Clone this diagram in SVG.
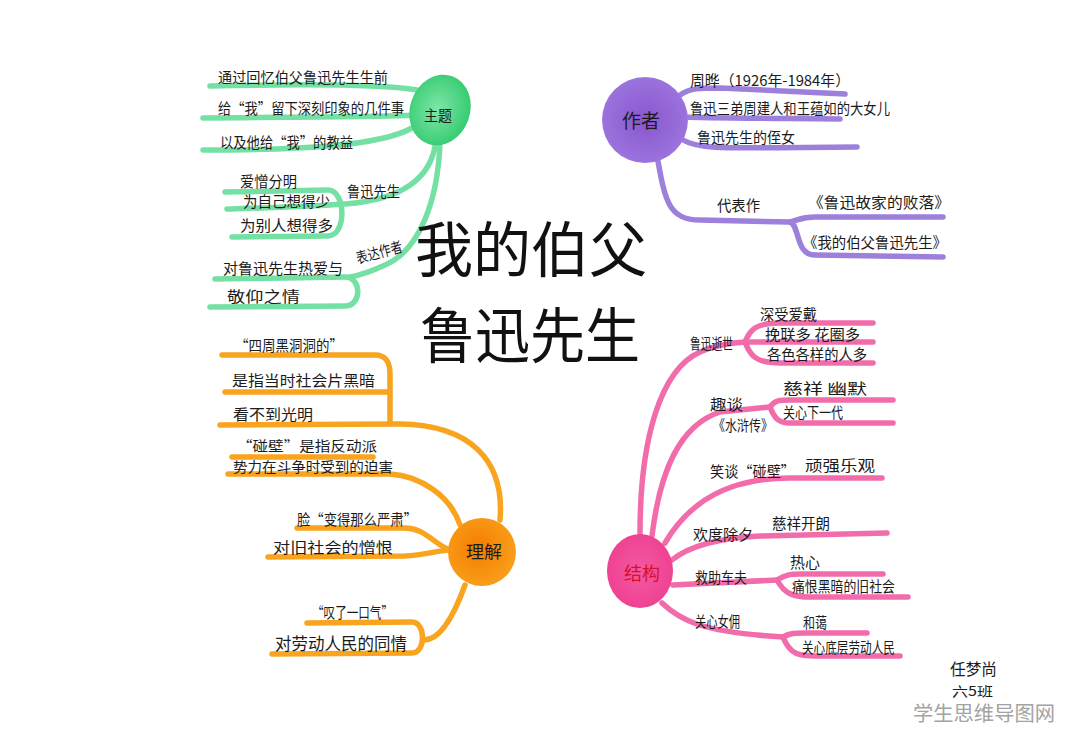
<svg xmlns="http://www.w3.org/2000/svg" width="1080" height="751" viewBox="0 0 1080 751">
<defs>
<radialGradient id="gG" cx="0.45" cy="0.5" r="0.6"><stop offset="0" stop-color="#7fe6a8"/><stop offset="1" stop-color="#2fc96c"/></radialGradient>
<radialGradient id="gP" cx="0.5" cy="0.5" r="0.6"><stop offset="0" stop-color="#8a56cf"/><stop offset="0.8" stop-color="#9a72dc"/><stop offset="1" stop-color="#b89ae8"/></radialGradient>
<radialGradient id="gO" cx="0.45" cy="0.45" r="0.6"><stop offset="0" stop-color="#f57c00"/><stop offset="1" stop-color="#f9a11c"/></radialGradient>
<radialGradient id="gK" cx="0.5" cy="0.5" r="0.6"><stop offset="0" stop-color="#f25aa2"/><stop offset="1" stop-color="#ef3d8f"/></radialGradient>
</defs>
<style>
.ln{fill:none;stroke-width:5.5;stroke-linecap:round;stroke-linejoin:round}
.g{stroke:#74e0a4}
.p{stroke:#9d80dc}
.o{stroke:#f8a41e}
.k{stroke:#f26cab}
.t{font-family:"Noto Sans CJK SC","Noto Sans",sans-serif;font-size:15px;fill:#1b1b1b}
.title{font-family:"Noto Sans CJK SC","Noto Sans",sans-serif;font-size:60px;fill:#111}
</style>
<rect width="1080" height="751" fill="#ffffff"/>

<g id="connectors">
<!-- green -->
<path class="ln g" d="M210,86 C300,84 380,84 417,90"/>
<path class="ln g" d="M203,118 C300,117 380,117 420,115"/>
<path class="ln g" d="M203,150 C300,150 380,146 412,128"/>
<path class="ln g" d="M436,140 C432,180 400,200 345,204 C300,207 260,208 227,209"/>
<path class="ln g" d="M225,192 L328,190 C346,190 347,236 328,236 L232,237"/>
<path class="ln g" d="M440,142 C438,200 420,250 385,265 C372,271 362,275 350,277"/>
<path class="ln g" d="M215,279 L345,277 C362,277 362,306 345,306 L210,307"/>
<!-- purple -->
<path class="ln p" d="M680,95 C690,88 700,88 720,88 L845,94"/>
<path class="ln p" d="M684,117 C700,118 720,118 840,119"/>
<path class="ln p" d="M683,140 C700,150 720,148 857,147"/>
<path class="ln p" d="M657,156 C665,200 668,220 700,220 L790,222"/>
<path class="ln p" d="M790,222 C800,220 800,217 815,217 L943,217"/>
<path class="ln p" d="M790,222 C800,225 795,255 815,255 L943,257"/>
<!-- orange -->
<path class="ln o" d="M500,520 C505,460 470,425 400,424 L220,425"/>
<path class="ln o" d="M222,355 L375,355 C388,355 390,365 390,375 L390,422"/>
<path class="ln o" d="M225,392 L388,392"/>
<path class="ln o" d="M232,457 L373,457"/>
<path class="ln o" d="M228,474 L390,474 C420,476 450,495 460,525"/>
<path class="ln o" d="M297,528 L405,528 C425,528 435,545 450,550"/>
<path class="ln o" d="M268,557 L405,556 C425,555 435,551 450,550"/>
<path class="ln o" d="M307,623 L412,622 C426,622 426,653 412,653 L272,654"/>
<path class="ln o" d="M424,640 C442,640 456,610 465,585"/>
<!-- pink -->
<path class="ln k" d="M640,534 C640,440 660,370 700,352 C715,345 730,343 745,342"/>
<path class="ln k" d="M745,342 C750,330 755,323 780,323 L873,323"/>
<path class="ln k" d="M745,342 L873,342"/>
<path class="ln k" d="M745,342 C750,355 755,363 780,363 L873,363"/>
<path class="ln k" d="M652,536 C660,470 680,425 720,412 L770,407"/>
<path class="ln k" d="M770,407 C775,400 780,400 790,400 L893,400"/>
<path class="ln k" d="M770,407 C775,420 780,423 790,423 L893,423"/>
<path class="ln k" d="M665,543 C690,500 730,478 790,478 L882,478"/>
<path class="ln k" d="M672,560 C690,545 720,538 760,536 L887,533"/>
<path class="ln k" d="M673,585 L777,580"/>
<path class="ln k" d="M777,580 C785,575 790,574 800,574 L883,574"/>
<path class="ln k" d="M777,580 C785,595 795,597 810,597 L908,597"/>
<path class="ln k" d="M662,603 C680,620 700,632 783,637"/>
<path class="ln k" d="M783,637 C790,633 795,633 805,633 L867,633"/>
<path class="ln k" d="M783,637 C790,655 800,656 815,656 L900,656"/>
</g>

<g id="title">
<text class="title" x="415" y="272" textLength="232" lengthAdjust="spacingAndGlyphs">我的伯父</text>
<text class="title" x="420" y="358" textLength="220" lengthAdjust="spacingAndGlyphs">鲁迅先生</text>
</g>

<g id="node-zhuti">
<ellipse cx="440" cy="110" rx="30" ry="36" transform="rotate(20 440 110)" fill="url(#gG)"/>
<text class="t" x="424" y="121" textLength="28" lengthAdjust="spacingAndGlyphs">主题</text>
</g>
<g id="zhuti-items">
<text class="t" x="218" y="83" textLength="170" lengthAdjust="spacingAndGlyphs">通过回忆伯父鲁迅先生生前</text>
<text class="t" x="218" y="114" textLength="186" lengthAdjust="spacingAndGlyphs">给“我”留下深刻印象的几件事</text>
<text class="t" x="220" y="148" textLength="133" lengthAdjust="spacingAndGlyphs">以及他给“我”的教益</text>
<text class="t" x="347" y="197" textLength="53" lengthAdjust="spacingAndGlyphs">鲁迅先生</text>
<text class="t" x="240" y="187" textLength="57" lengthAdjust="spacingAndGlyphs">爱憎分明</text>
<text class="t" x="243" y="207" textLength="87" lengthAdjust="spacingAndGlyphs">为自己想得少</text>
<text class="t" x="240" y="231" textLength="93" lengthAdjust="spacingAndGlyphs">为别人想得多</text>
<text class="t" x="355" y="258" textLength="47" lengthAdjust="spacingAndGlyphs" transform="rotate(-15 378 250)">表达作者</text>
<text class="t" x="223" y="274" textLength="120" lengthAdjust="spacingAndGlyphs">对鲁迅先生热爱与</text>
<text class="t" x="227" y="302" textLength="73" lengthAdjust="spacingAndGlyphs">敬仰之情</text>
</g>

<g id="node-zuozhe">
<circle cx="645" cy="120" r="43" fill="url(#gP)"/>
<text class="t" x="622" y="128" style="font-size:19px" textLength="38" lengthAdjust="spacingAndGlyphs">作者</text>
</g>
<g id="zuozhe-items">
<text class="t" x="690" y="86" textLength="160" lengthAdjust="spacingAndGlyphs">周晔（1926年-1984年）</text>
<text class="t" x="690" y="114" textLength="200" lengthAdjust="spacingAndGlyphs">鲁迅三弟周建人和王蕴如的大女儿</text>
<text class="t" x="697" y="143" textLength="98" lengthAdjust="spacingAndGlyphs">鲁迅先生的侄女</text>
<text class="t" x="717" y="211" textLength="43" lengthAdjust="spacingAndGlyphs">代表作</text>
<text class="t" x="808" y="208" textLength="142" lengthAdjust="spacingAndGlyphs">《鲁迅故家的败落》</text>
<text class="t" x="803" y="248" textLength="144" lengthAdjust="spacingAndGlyphs">《我的伯父鲁迅先生》</text>
</g>

<g id="node-lijie">
<circle cx="482" cy="552" r="34" fill="url(#gO)"/>
<text class="t" x="466" y="558" style="font-size:17px" textLength="36" lengthAdjust="spacingAndGlyphs">理解</text>
</g>
<g id="lijie-items">
<text class="t" x="235" y="351" textLength="108" lengthAdjust="spacingAndGlyphs">“四周黑洞洞的”</text>
<text class="t" x="232" y="386" textLength="143" lengthAdjust="spacingAndGlyphs">是指当时社会片黑暗</text>
<text class="t" x="233" y="420" textLength="80" lengthAdjust="spacingAndGlyphs">看不到光明</text>
<text class="t" x="237" y="451" style="font-size:14px" textLength="140" lengthAdjust="spacingAndGlyphs">“碰壁”是指反动派</text>
<text class="t" x="233" y="472" style="font-size:14px" textLength="160" lengthAdjust="spacingAndGlyphs">势力在斗争时受到的迫害</text>
<text class="t" x="297" y="525" textLength="120" lengthAdjust="spacingAndGlyphs">脸“变得那么严肃”</text>
<text class="t" x="273" y="553" textLength="120" lengthAdjust="spacingAndGlyphs">对旧社会的憎恨</text>
<text class="t" x="312" y="618" textLength="81" lengthAdjust="spacingAndGlyphs">“叹了一口气”</text>
<text class="t" x="275" y="650" style="font-size:17px" textLength="132" lengthAdjust="spacingAndGlyphs">对劳动人民的同情</text>
</g>

<g id="node-jiegou">
<ellipse cx="640" cy="571" rx="33" ry="37" fill="url(#gK)"/>
<text class="t" x="624" y="580" style="font-size:18px;fill:#d8102a" textLength="36" lengthAdjust="spacingAndGlyphs">结构</text>
</g>
<g id="jiegou-items">
<text class="t" x="690" y="349" textLength="43" lengthAdjust="spacingAndGlyphs">鲁迅逝世</text>
<text class="t" x="760" y="320" textLength="57" lengthAdjust="spacingAndGlyphs">深受爱戴</text>
<text class="t" x="765" y="340" textLength="95" lengthAdjust="spacingAndGlyphs">挽联多  花圈多</text>
<text class="t" x="767" y="360" textLength="100" lengthAdjust="spacingAndGlyphs">各色各样的人多</text>
<text class="t" x="710" y="410" textLength="33" lengthAdjust="spacingAndGlyphs">趣谈</text>
<text class="t" x="713" y="431" textLength="60" lengthAdjust="spacingAndGlyphs">《水浒传》</text>
<text class="t" x="783" y="394" textLength="84" lengthAdjust="spacingAndGlyphs">慈祥  幽默</text>
<text class="t" x="783" y="418" textLength="60" lengthAdjust="spacingAndGlyphs">关心下一代</text>
<text class="t" x="710" y="477" textLength="85" lengthAdjust="spacingAndGlyphs">笑谈“碰壁”</text>
<text class="t" x="805" y="471" textLength="70" lengthAdjust="spacingAndGlyphs">顽强乐观</text>
<text class="t" x="693" y="540" textLength="60" lengthAdjust="spacingAndGlyphs">欢度除夕</text>
<text class="t" x="772" y="529" textLength="58" lengthAdjust="spacingAndGlyphs">慈祥开朗</text>
<text class="t" x="695" y="583" textLength="52" lengthAdjust="spacingAndGlyphs">救助车夫</text>
<text class="t" x="790" y="568" textLength="30" lengthAdjust="spacingAndGlyphs">热心</text>
<text class="t" x="792" y="592" textLength="103" lengthAdjust="spacingAndGlyphs">痛恨黑暗的旧社会</text>
<text class="t" x="695" y="627" textLength="45" lengthAdjust="spacingAndGlyphs">关心女佣</text>
<text class="t" x="803" y="628" textLength="24" lengthAdjust="spacingAndGlyphs">和蔼</text>
<text class="t" x="802" y="653" textLength="93" lengthAdjust="spacingAndGlyphs">关心底层劳动人民</text>
</g>

<g id="signature">
<text class="t" x="950" y="675" style="font-size:16px" textLength="47" lengthAdjust="spacingAndGlyphs">任梦尚</text>
<text class="t" x="952" y="696" style="font-size:13px" textLength="41" lengthAdjust="spacingAndGlyphs">六5班</text>
</g>
<g id="watermark">
<text x="913" y="721" style="font-family:'Noto Sans CJK SC','Noto Sans',sans-serif;font-size:20px;fill:#a3a3a3" textLength="142" lengthAdjust="spacingAndGlyphs">学生思维导图网</text>
</g>
</svg>
